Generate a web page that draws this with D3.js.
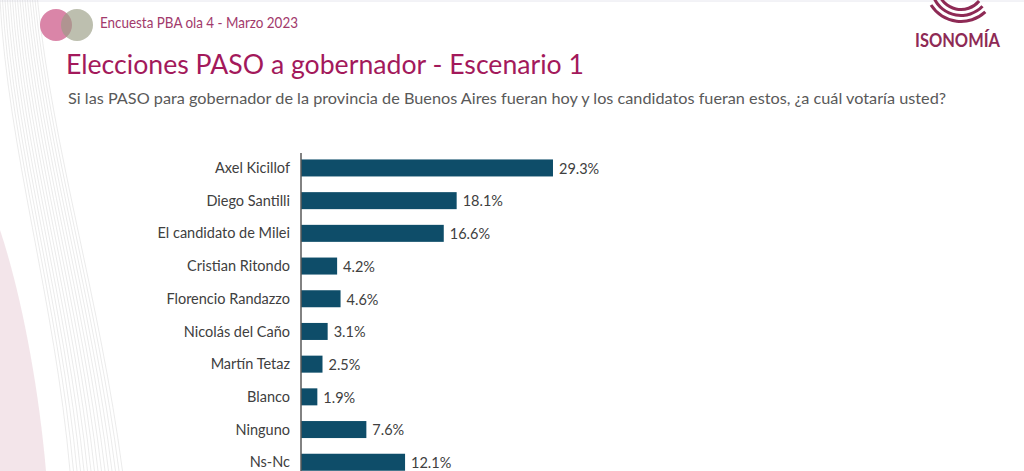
<!DOCTYPE html>
<html>
<head>
<meta charset="utf-8">
<script src="https://cdn.jsdelivr.net/npm/d3@7"></script>
<style>
  body { margin: 0; background: #fff; }
  svg { display: block; }
  .label { font-family: Lato, "Open Sans", sans-serif; fill: #404040; }
</style>
</head>
<body>
<div id="chart"></div>
<script>
// data
var candidatos = ["Axel Kicillof", "Diego Santilli", "El candidato de Milei", "Cristian Ritondo",
    "Florencio Randazzo", "Nicolás del Caño", "Martín Tetaz", "Blanco", "Ninguno", "Ns-Nc"];
var porcentajes = [29.3, 18.1, 16.6, 4.2, 4.6, 3.1, 2.5, 1.9, 7.6, 12.1];

var encabezado = "Encuesta PBA ola 4 - Marzo 2023";
var titulo = "Elecciones PASO a gobernador - Escenario 1";
var pregunta = "Si las PASO para gobernador de la provincia de Buenos Aires fueran hoy y los candidatos fueran estos, ¿a cuál votaría usted?";

var width = 1024, height = 471;

var svg = d3.select("#chart")
    .append("svg")
    .attr("width", width)
    .attr("height", height);

// faint border on top
svg.append("line")
    .attr("x1", 0).attr("x2", width)
    .attr("y1", 1).attr("y2", 1)
    .attr("stroke", "#e6e6ee");

// background swirl on the left edge
var deco = svg.append("g");
deco.append("path")
    .attr("d", "M0,230 C20,290 38,380 46,471 L0,471 Z")
    .attr("fill", "#f0dfe5")
    .attr("opacity", 0.8);
for (let i = 0; i < 16; i++) {
    deco.append("path")
        .attr("d", "M" + (i * 2.5) + ",0 C" + (8 + i * 3) + ",150 " + (55 + i * 3) + ",300 " + (70 + i * 3.5) + ",471")
        .attr("fill", "none")
        .attr("stroke", "#cfcfcf")
        .attr("stroke-width", 0.7)
        .attr("opacity", 0.6);
}

// header circles
svg.append("circle")
    .attr("cx", 56).attr("cy", 25).attr("r", 16)
    .attr("fill", "#d6789f").attr("opacity", 0.9);
svg.append("circle")
    .attr("cx", 77).attr("cy", 25).attr("r", 16)
    .attr("fill", "#9a9c84").attr("opacity", 0.65);

svg.append("text")
    .attr("x", 100).attr("y", 28)
    .attr("textLength", 198).attr("lengthAdjust", "spacingAndGlyphs")
    .style("font-family", "Lato, sans-serif")
    .style("font-size", "15px")
    .attr("fill", "#a23a6c")
    .text(encabezado);

svg.append("text")
    .attr("x", 66).attr("y", 74)
    .attr("textLength", 518).attr("lengthAdjust", "spacingAndGlyphs")
    .style("font-family", "Lato, sans-serif")
    .style("font-size", "27px")
    .attr("fill", "#a3195b")
    .text(titulo);

svg.append("text")
    .attr("x", 68).attr("y", 104)
    .attr("textLength", 878).attr("lengthAdjust", "spacingAndGlyphs")
    .style("font-family", "Lato, sans-serif")
    .style("font-size", "16px")
    .attr("fill", "#595959")
    .text(pregunta);

// logo swoosh
var logo = svg.append("g").attr("transform", "translate(961,-14)");
[22, 28, 34].forEach(function (r, i) {
    logo.append("path")
        .attr("d", d3.arc()({ innerRadius: r, outerRadius: r + 3,
            startAngle: Math.PI * (0.72 + i * 0.02), endAngle: Math.PI * (1.42 - i * 0.05) }))
        .attr("fill", "#8e2a55");
});
svg.append("text")
    .attr("x", 915).attr("y", 47)
    .attr("textLength", 85).attr("lengthAdjust", "spacingAndGlyphs")
    .style("font-family", "Lato, sans-serif")
    .style("font-size", "19px")
    .style("font-weight", "bold")
    .attr("fill", "#8e2a55")
    .text("ISONOMÍA");

// bars
var x0 = 301;
var x = d3.scaleLinear()
    .domain([0, 30])
    .range([x0, x0 + 258]);

var y = d3.scaleBand()
    .domain(candidatos)
    .range([151.6, 478.6])
    .paddingInner(0.48)
    .paddingOuter(0.24);

var rows = candidatos.map((c, i) => ({ name: c, value: porcentajes[i] }));

svg.append("g")
    .selectAll("rect")
    .data(rows)
    .join("rect")
    .attr("x", x(0))
    .attr("y", d => y(d.name))
    .attr("width", d => x(d.value) - x(0))
    .attr("height", y.bandwidth())
    .attr("fill", "#0e4d69");

// category labels
svg.append("g")
    .selectAll("text")
    .data(rows)
    .join("text")
    .attr("class", "label")
    .attr("x", 290)
    .attr("y", d => y(d.name) + y.bandwidth() / 2)
    .attr("dy", "0.35em")
    .attr("text-anchor", "end")
    .style("font-size", "14.5px")
    .text(d => d.name);

// value labels
svg.append("g")
    .selectAll("text")
    .data(rows)
    .join("text")
    .attr("class", "label")
    .attr("x", d => x(d.value) + 6)
    .attr("y", d => y(d.name) + y.bandwidth() / 2)
    .attr("dy", "0.4em")
    .style("font-size", "14.5px")
    .text(d => d.value.toFixed(1) + "%");

// vertical axis line
svg.append("line")
    .attr("x1", x0).attr("x2", x0)
    .attr("y1", 153).attr("y2", height)
    .attr("stroke", "#595959")
    .attr("stroke-width", 1.5);
</script>
</body>
</html>
